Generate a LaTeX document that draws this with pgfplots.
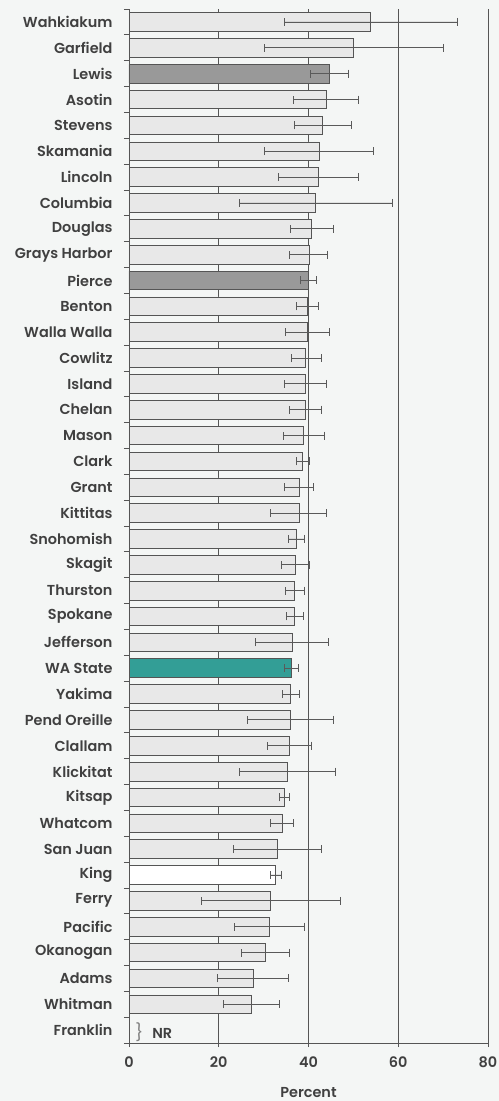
\documentclass[border=0pt]{standalone}
\usepackage{pgfplots}
\pgfplotsset{compat=1.18}
\usepackage{pgfplotstable}
\usepackage{fontspec}
\setmainfont{Poppins}
\newfontfamily\semib{Poppins SemiBold}
\definecolor{bg}{HTML}{F4F6F5}
\definecolor{txt}{HTML}{404040}
\definecolor{barfill}{HTML}{E8E8E8}
\definecolor{barline}{HTML}{555555}
\definecolor{darkbar}{HTML}{999999}
\definecolor{tealbar}{HTML}{339E96}
\definecolor{gridc}{HTML}{555555}
\definecolor{errc}{HTML}{5A5A5A}

\pgfplotstableread{
idx val lo hi
0 53.9 34.7 73.2
1 50.1 30.1 70.1
3 44.0 36.6 51.2
4 43.2 36.8 49.5
5 42.4 30.2 54.4
6 42.2 33.4 51.1
7 41.6 24.5 58.7
8 40.7 35.9 45.5
9 40.1 35.8 44.3
11 39.7 37.4 42.2
12 39.7 34.9 44.6
13 39.4 36.3 42.8
14 39.3 34.7 44.0
15 39.2 35.7 42.9
16 38.8 34.3 43.5
17 38.7 37.3 40.3
18 38.0 34.7 41.1
19 37.9 31.6 44.1
20 37.3 35.5 39.0
21 37.1 33.9 40.2
22 36.9 34.8 39.0
23 36.9 35.0 38.8
24 36.4 28.2 44.5
26 36.0 34.2 38.0
27 35.9 26.4 45.5
28 35.7 30.8 40.6
29 35.3 24.7 45.9
30 34.6 33.5 35.8
31 34.2 31.6 36.6
32 33.0 23.2 42.8
34 31.6 16.2 47.0
35 31.3 23.5 39.0
36 30.5 25.1 35.7
37 27.7 19.8 35.6
38 27.3 21.0 33.5
}\greytab
\pgfplotstableread{
idx val lo hi
2 44.6 40.4 48.8
10 40.0 38.2 41.7
}\darktab
\pgfplotstableread{
idx val lo hi
25 36.2 34.6 37.7
}\tealtab
\pgfplotstableread{
idx val lo hi
33 32.7 31.5 33.9
}\whitetab

\pgfplotsset{
  mybar/.style={xbar, bar width=0.72, draw=barline, line width=0.8bp,
    error bars/x dir=both, error bars/x explicit,
    error bars/error mark=-,
    error bars/error bar style={errc, line width=0.8bp},
    error bars/error mark options={rotate=90, errc, line width=0.8bp, mark size=4bp}},
}

\begin{document}
\begin{tikzpicture}
\fill[bg] (-129bp,-58bp) rectangle (370bp,1043bp);
\begin{axis}[
  at={(0,0)}, anchor=south west,
  scale only axis, width=359bp, height=1034bp,
  xmin=0, xmax=80, ymin=-0.5, ymax=39.5, y dir=reverse,
  axis x line*=bottom, axis y line*=left,
  axis line style={barline, line width=0.8bp},
  xtick={0,20,40,60,80},
  ytick={0,...,39},
  yticklabels={Wahkiakum,Garfield,Lewis,Asotin,Stevens,Skamania,Lincoln,Columbia,Douglas,Grays Harbor,Pierce,Benton,Walla Walla,Cowlitz,Island,Chelan,Mason,Clark,Grant,Kittitas,Snohomish,Skagit,Thurston,Spokane,Jefferson,WA State,Yakima,Pend Oreille,Clallam,Klickitat,Kitsap,Whatcom,San Juan,King,Ferry,Pacific,Okanogan,Adams,Whitman,Franklin},
  minor ytick={-0.5,0.5,...,39.5},
  tick align=outside,
  major y tick style={draw=none},
  minor y tick style={barline, line width=0.8bp},
  major x tick style={barline, line width=0.8bp},
  minor tick length=5bp, major tick length=4bp,
  xmajorgrids, major x grid style={gridc, line width=0.8bp},
  /pgf/number format/assume math mode=true,
  y tick label style={font=\semib\fontsize{14.5}{16}\selectfont, text=txt, xshift=-9bp},
  x tick label style={font=\semib\fontsize{14.5}{16}\selectfont, text=txt, yshift=-6bp},
  xlabel={Percent},
  xlabel style={font=\semib\fontsize{14.5}{16}\selectfont, text=txt, yshift=-13bp},
  clip=false,
]
\addplot[fill=barfill, mybar] table[x=val, y=idx, x error plus expr=\thisrow{hi}-\thisrow{val}, x error minus expr=\thisrow{val}-\thisrow{lo}] {\greytab};
\addplot[fill=darkbar, mybar] table[x=val, y=idx, x error plus expr=\thisrow{hi}-\thisrow{val}, x error minus expr=\thisrow{val}-\thisrow{lo}] {\darktab};
\addplot[fill=tealbar, mybar] table[x=val, y=idx, x error plus expr=\thisrow{hi}-\thisrow{val}, x error minus expr=\thisrow{val}-\thisrow{lo}] {\tealtab};
\addplot[fill=white, mybar] table[x=val, y=idx, x error plus expr=\thisrow{hi}-\thisrow{val}, x error minus expr=\thisrow{val}-\thisrow{lo}] {\whitetab};
\node[anchor=west, inner sep=0pt, text=txt] at (axis cs:1.4,39.1) {{\color{gray}\fontsize{17}{17}\selectfont\}}\hspace{9bp}{\semib\fontsize{14.5}{16}\selectfont NR}};
\end{axis}
\pgfresetboundingbox
\path (-129bp,-58bp) rectangle (370bp,1043bp);
\end{tikzpicture}
\end{document}
